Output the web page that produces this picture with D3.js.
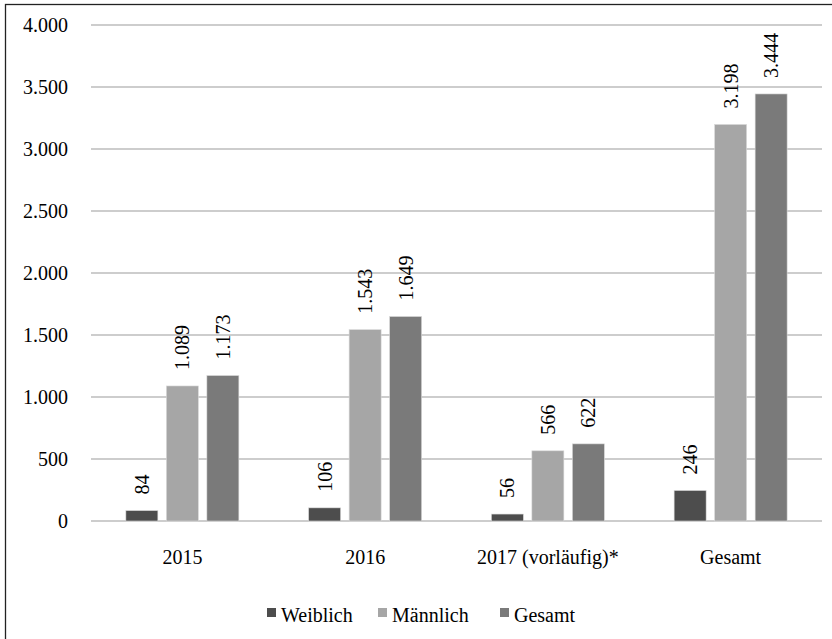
<!DOCTYPE html>
<html>
<head>
<meta charset="utf-8">
<script src="https://cdn.jsdelivr.net/npm/d3@7"></script>
<style>
  body { margin: 0; background: #fff; }
</style>
</head>
<body>
<div id="chart"></div>
<script>
// categories and series
var categories = ["2015", "2016", "2017 (vorläufig)*", "Gesamt"];
var seriesNames = ["Weiblich", "Männlich", "Gesamt"];
var weiblich = [84, 106, 56, 246];
var maennlich = [1089, 1543, 566, 3198];
var gesamt = [1173, 1649, 622, 3444];
var yTicks = [0, 500, 1000, 1500, 2000, 2500, 3000, 3500, 4000];

var colors = ["#4d4d4d", "#a6a6a6", "#7a7a7a"];

var de = d3.formatLocale({ decimal: ",", thousands: ".", grouping: [3], currency: ["", " €"] });
var fmt = de.format(",d");

var W = 832, H = 639;
var serif = "'Liberation Serif', 'DejaVu Serif', 'Times New Roman', serif";

var svg = d3.select("#chart").append("svg")
  .attr("width", W)
  .attr("height", H)
  .attr("font-family", serif)
  .style("font-family", serif);

// outer frame (only left + top visible in the original)
svg.append("rect")
  .attr("x", 5.5).attr("y", 4.5)
  .attr("width", W + 20).attr("height", H + 20)
  .attr("fill", "none")
  .attr("stroke", "#222")
  .attr("stroke-width", 1.3);

var x0 = d3.scaleBand()
  .domain(categories)
  .range([91, 822]);

var x1 = d3.scaleBand()
  .domain(seriesNames)
  .range([0, 113])
  .paddingInner(0.21);

var y = d3.scaleLinear()
  .domain([0, 4000])
  .range([521, 25]);

// gridlines
svg.append("g")
  .selectAll("line")
  .data(yTicks)
  .enter()
    .append("line")
      .attr("x1", 91)
      .attr("x2", 822)
      .attr("y1", d => y(d))
      .attr("y2", d => y(d))
      .attr("stroke", "#bdbdbd")
      .attr("stroke-width", 1.6);

// y labels
svg.append("g")
  .selectAll("text")
  .data(yTicks)
  .enter()
    .append("text")
      .attr("x", 68)
      .attr("y", d => y(d))
      .attr("dy", "0.35em")
      .attr("text-anchor", "end")
      .attr("font-family", serif)
      .style("font-size", "20px")
      .text(d => fmt(d));

var rows = [];
categories.forEach(function (c, i) {
  rows.push({ cat: c, s: "Weiblich", v: weiblich[i], k: 0 });
  rows.push({ cat: c, s: "Männlich", v: maennlich[i], k: 1 });
  rows.push({ cat: c, s: "Gesamt", v: gesamt[i], k: 2 });
});

var groupOffset = (x0.bandwidth() - 113) / 2;

function barX(d) {
  return x0(d.cat) + groupOffset + x1(d.s);
}

svg.append("g")
  .selectAll("rect")
  .data(rows)
  .enter()
    .append("rect")
      .attr("x", d => barX(d))
      .attr("y", d => y(d.v))
      .attr("width", x1.bandwidth())
      .attr("height", d => y(0) - y(d.v))
      .attr("fill", d => colors[d.k])
      .attr("stroke", "#d9d9d9")
      .attr("stroke-width", 0.6);

// value labels, rotated
svg.append("g")
  .selectAll("text")
  .data(rows)
  .enter()
    .append("text")
      .attr("transform", function (d) {
        var cx = barX(d) + x1.bandwidth() / 2;
        var ty = y(d.v) - 16;
        return "translate(" + cx + "," + ty + ") rotate(-90)";
      })
      .attr("dy", "0.35em")
      .attr("text-anchor", "start")
      .attr("font-family", serif)
      .style("font-size", "20px")
      .text(d => fmt(d.v));

// category labels
svg.append("g")
  .selectAll("text")
  .data(categories)
  .enter()
    .append("text")
      .attr("x", d => x0(d) + x0.bandwidth() / 2)
      .attr("y", 564)
      .attr("text-anchor", "middle")
      .attr("font-family", serif)
      .style("font-size", "20px")
      .text(d => d);

// legend
var legendX = [267, 378, 500];
var legend = svg.append("g")
  .selectAll("g")
  .data(seriesNames)
  .enter()
    .append("g")
      .attr("transform", (d, i) => "translate(" + legendX[i] + ",0)");

legend.append("rect")
  .attr("x", 0)
  .attr("y", 608)
  .attr("width", 9)
  .attr("height", 9)
  .attr("fill", (d, i) => colors[i]);

legend.append("text")
  .attr("x", 14)
  .attr("y", 622)
  .attr("font-family", serif)
  .style("font-size", "20px")
  .text(d => d);
</script>
</body>
</html>
